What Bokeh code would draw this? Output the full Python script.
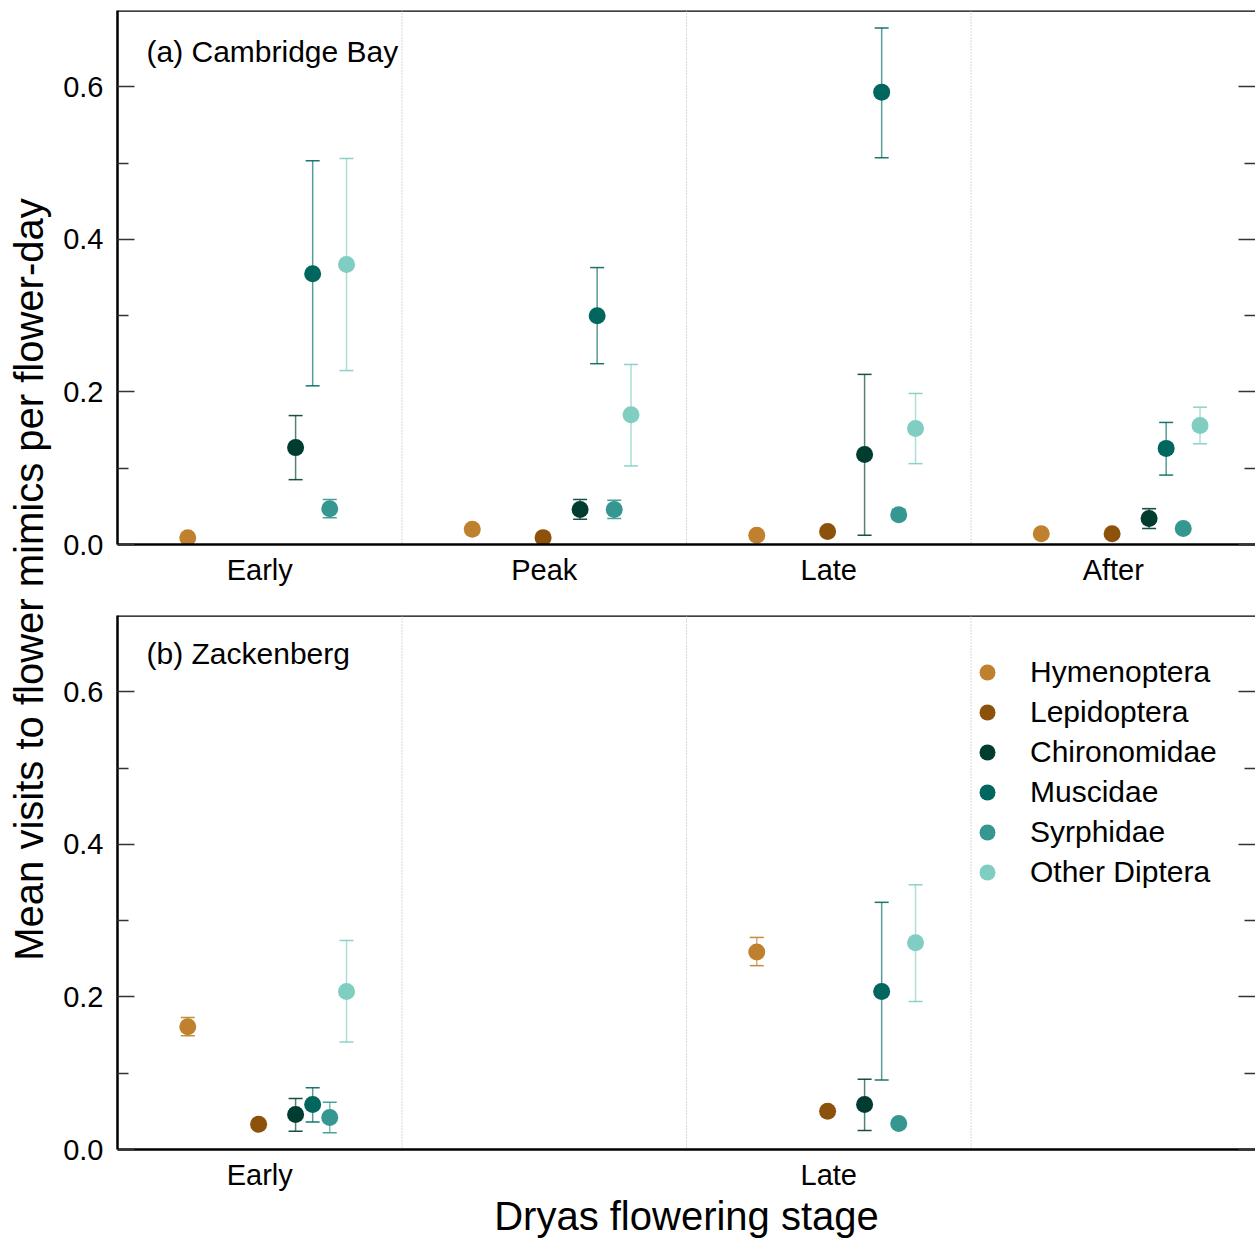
import numpy as np
from bokeh.plotting import figure
from bokeh.models import (FactorRange, Range1d, FixedTicker, LinearAxis, Span, Label,
                          Legend, LegendItem, ColumnDataSource, NumeralTickFormatter,
                          CustomJSTickFormatter)
from bokeh.transform import dodge
from bokeh.layouts import row, column
from bokeh.embed import file_html
from bokeh.resources import INLINE

# ---------------- data ----------------
stages = ["Early", "Peak", "Late", "After"]
b_labelled_stages = ["Early", "Late"]
series = ["Hymenoptera", "Lepidoptera", "Chironomidae", "Muscidae", "Syrphidae", "Other Diptera"]
colors = ["#BF812D", "#8C510A", "#003C30", "#01665E", "#35978F", "#80CDC1"]
y_ticks = [0.0, 0.2, 0.4, 0.6]
y_minor = [0.1, 0.3, 0.5]

# (a) Cambridge Bay: means and error-bar limits per stage (Early, Peak, Late, After)
a_hym = [0.009, 0.020, 0.012, 0.014]
a_hym_lo = [None, None, None, None]
a_hym_hi = [None, None, None, None]
a_lep = [None, 0.009, 0.017, 0.014]
a_lep_lo = [None, None, None, None]
a_lep_hi = [None, None, None, None]
a_chi = [0.127, 0.046, 0.118, 0.034]
a_chi_lo = [0.085, 0.033, 0.012, 0.021]
a_chi_hi = [0.169, 0.059, 0.223, 0.047]
a_mus = [0.355, 0.300, 0.593, 0.126]
a_mus_lo = [0.208, 0.237, 0.507, 0.091]
a_mus_hi = [0.503, 0.363, 0.677, 0.160]
a_syr = [0.047, 0.046, 0.039, 0.021]
a_syr_lo = [0.035, 0.034, 0.033, None]
a_syr_hi = [0.059, 0.058, 0.046, None]
a_oth = [0.367, 0.170, 0.152, 0.156]
a_oth_lo = [0.228, 0.103, 0.106, 0.132]
a_oth_hi = [0.506, 0.236, 0.198, 0.180]

# (b) Zackenberg
b_hym = [0.161, None, 0.259, None]
b_hym_lo = [0.149, None, 0.241, None]
b_hym_hi = [0.173, None, 0.278, None]
b_lep = [0.033, None, 0.050, None]
b_lep_lo = [None, None, None, None]
b_lep_hi = [None, None, None, None]
b_chi = [0.046, None, 0.059, None]
b_chi_lo = [0.024, None, 0.025, None]
b_chi_hi = [0.067, None, 0.092, None]
b_mus = [0.059, None, 0.207, None]
b_mus_lo = [0.036, None, 0.091, None]
b_mus_hi = [0.081, None, 0.324, None]
b_syr = [0.042, None, 0.034, None]
b_syr_lo = [0.022, None, None, None]
b_syr_hi = [0.062, None, None, None]
b_oth = [0.207, None, 0.271, None]
b_oth_lo = [0.141, None, 0.194, None]
b_oth_hi = [0.274, None, 0.347, None]

panel_a = [(a_hym, a_hym_lo, a_hym_hi), (a_lep, a_lep_lo, a_lep_hi), (a_chi, a_chi_lo, a_chi_hi),
           (a_mus, a_mus_lo, a_mus_hi), (a_syr, a_syr_lo, a_syr_hi), (a_oth, a_oth_lo, a_oth_hi)]
panel_b = [(b_hym, b_hym_lo, b_hym_hi), (b_lep, b_lep_lo, b_lep_hi), (b_chi, b_chi_lo, b_chi_hi),
           (b_mus, b_mus_lo, b_mus_hi), (b_syr, b_syr_lo, b_syr_hi), (b_oth, b_oth_lo, b_oth_hi)]

# ---------------- style ----------------
FONT = "Liberation Sans"
offsets = [-0.253, -0.004, 0.126, 0.186, 0.246, 0.305]


def nanify(v):
    return [np.nan if x is None else x for x in v]


def make_panel(height, top, bottom, label_text, label_y, data, keep_labels=None, xlabel=None):
    p = figure(width=1197, height=height, x_range=FactorRange(*stages), y_range=Range1d(0, 0.7),
               output_backend="svg", toolbar_location=None, min_border_left=59, min_border_right=0,
               min_border_top=top, min_border_bottom=bottom)
    p.outline_line_color = None
    p.xgrid.visible = False
    p.ygrid.visible = False

    yax = p.yaxis[0]
    yax.ticker = FixedTicker(ticks=y_ticks, minor_ticks=y_minor)
    yax.formatter = NumeralTickFormatter(format="0.0")
    yax.major_tick_in = 17
    yax.major_tick_out = 0
    yax.minor_tick_in = 11
    yax.minor_tick_out = 0
    yax.axis_line_width = 2.5
    yax.axis_line_color = "black"
    yax.major_tick_line_width = 1.5
    yax.major_tick_line_color = "#333333"
    yax.minor_tick_line_width = 1.5
    yax.minor_tick_line_color = "#333333"
    yax.major_label_text_font_size = "29px"
    yax.major_label_text_font = FONT
    yax.major_label_text_color = "black"
    yax.major_label_standoff = 14

    ra = LinearAxis(ticker=FixedTicker(ticks=y_ticks, minor_ticks=y_minor),
                    formatter=CustomJSTickFormatter(code="return ''"),
                    major_label_standoff=0,
                    axis_line_color=None, major_tick_in=17, major_tick_out=0,
                    minor_tick_in=11, minor_tick_out=0,
                    major_tick_line_width=1.5, major_tick_line_color="#333333",
                    minor_tick_line_width=1.5, minor_tick_line_color="#333333")
    p.add_layout(ra, "right")

    xax = p.xaxis[0]
    xax.axis_line_width = 2.5
    xax.axis_line_color = "black"
    xax.major_tick_line_color = None
    xax.minor_tick_line_color = None
    xax.major_label_text_font_size = "29px"
    xax.major_label_text_font = FONT
    xax.major_label_text_color = "black"
    xax.major_label_standoff = 3
    if keep_labels is not None:
        keep = ",".join("'%s'" % s for s in keep_labels)
        xax.formatter = CustomJSTickFormatter(
            code="return [%s].includes(tick) ? tick : '';" % keep)
    if xlabel:
        xax.axis_label = xlabel
        xax.axis_label_text_font_size = "40px"
        xax.axis_label_text_font = FONT
        xax.axis_label_text_font_style = "normal"
        xax.axis_label_text_color = "black"
        xax.axis_label_standoff = 0

    p.add_layout(Span(location=0.7, dimension="width", line_color="black", line_width=2.5))
    for loc in (1, 2, 3):
        p.add_layout(Span(location=loc, dimension="height", line_color="#b0b0b0",
                          line_width=1, line_dash="1 2"))

    renderers = []
    for (mean, lo, hi), color, off in zip(data, colors, offsets):
        src = ColumnDataSource(dict(stage=stages, mean=nanify(mean), lo=nanify(lo), hi=nanify(hi)))
        xx = dodge("stage", off, range=p.x_range)
        p.segment(x0=xx, y0="lo", x1=xx, y1="hi", source=src, line_color=color,
                  line_alpha=0.65, line_width=1.5)
        p.scatter(x=xx, y="lo", marker="dash", size=14, line_color=color, line_alpha=0.9,
                  line_width=1.5, source=src)
        p.scatter(x=xx, y="hi", marker="dash", size=14, line_color=color, line_alpha=0.9,
                  line_width=1.5, source=src)
        r = p.scatter(x=xx, y="mean", size=17, fill_color=color, line_color=None, source=src)
        renderers.append(r)

    p.add_layout(Label(x=29, y=label_y, x_units="screen", y_units="screen", text=label_text,
                       text_font=FONT, text_font_size="30px", text_color="black",
                       text_baseline="alphabetic", text_align="left"))
    return p, renderers


pa, _ = make_panel(590, 10, 46, "(a) Cambridge Bay", 493, panel_a)
pb, rb = make_panel(653, 25, 94, "(b) Zackenberg", 496, panel_b, keep_labels=b_labelled_stages,
                    xlabel="Dryas flowering stage")

legend = Legend(items=[LegendItem(label=n, renderers=[r]) for n, r in zip(series, rb)],
                location=(849, 257), orientation="vertical", padding=0, margin=0, spacing=0,
                glyph_width=42, glyph_height=40, label_height=40, label_standoff=22,
                label_text_font=FONT, label_text_font_size="30px", label_text_color="black",
                border_line_alpha=0, background_fill_alpha=0)
pb.add_layout(legend)

lf = figure(width=58, height=1243, x_range=Range1d(0, 1), y_range=Range1d(0, 1),
            x_axis_location=None, y_axis_location=None, toolbar_location=None,
            output_backend="svg", min_border=0)
lf.outline_line_color = None
lf.grid.visible = False
lf.add_layout(Label(x=28, y=664, x_units="screen", y_units="screen",
                    text="Mean visits to flower mimics per flower-day", angle=np.pi / 2,
                    text_align="center", text_baseline="alphabetic", text_font=FONT,
                    text_font_size="40px", text_color="black"))

layout = row(lf, column(pa, pb))
open("out.html", "w").write(file_html(layout, INLINE))
